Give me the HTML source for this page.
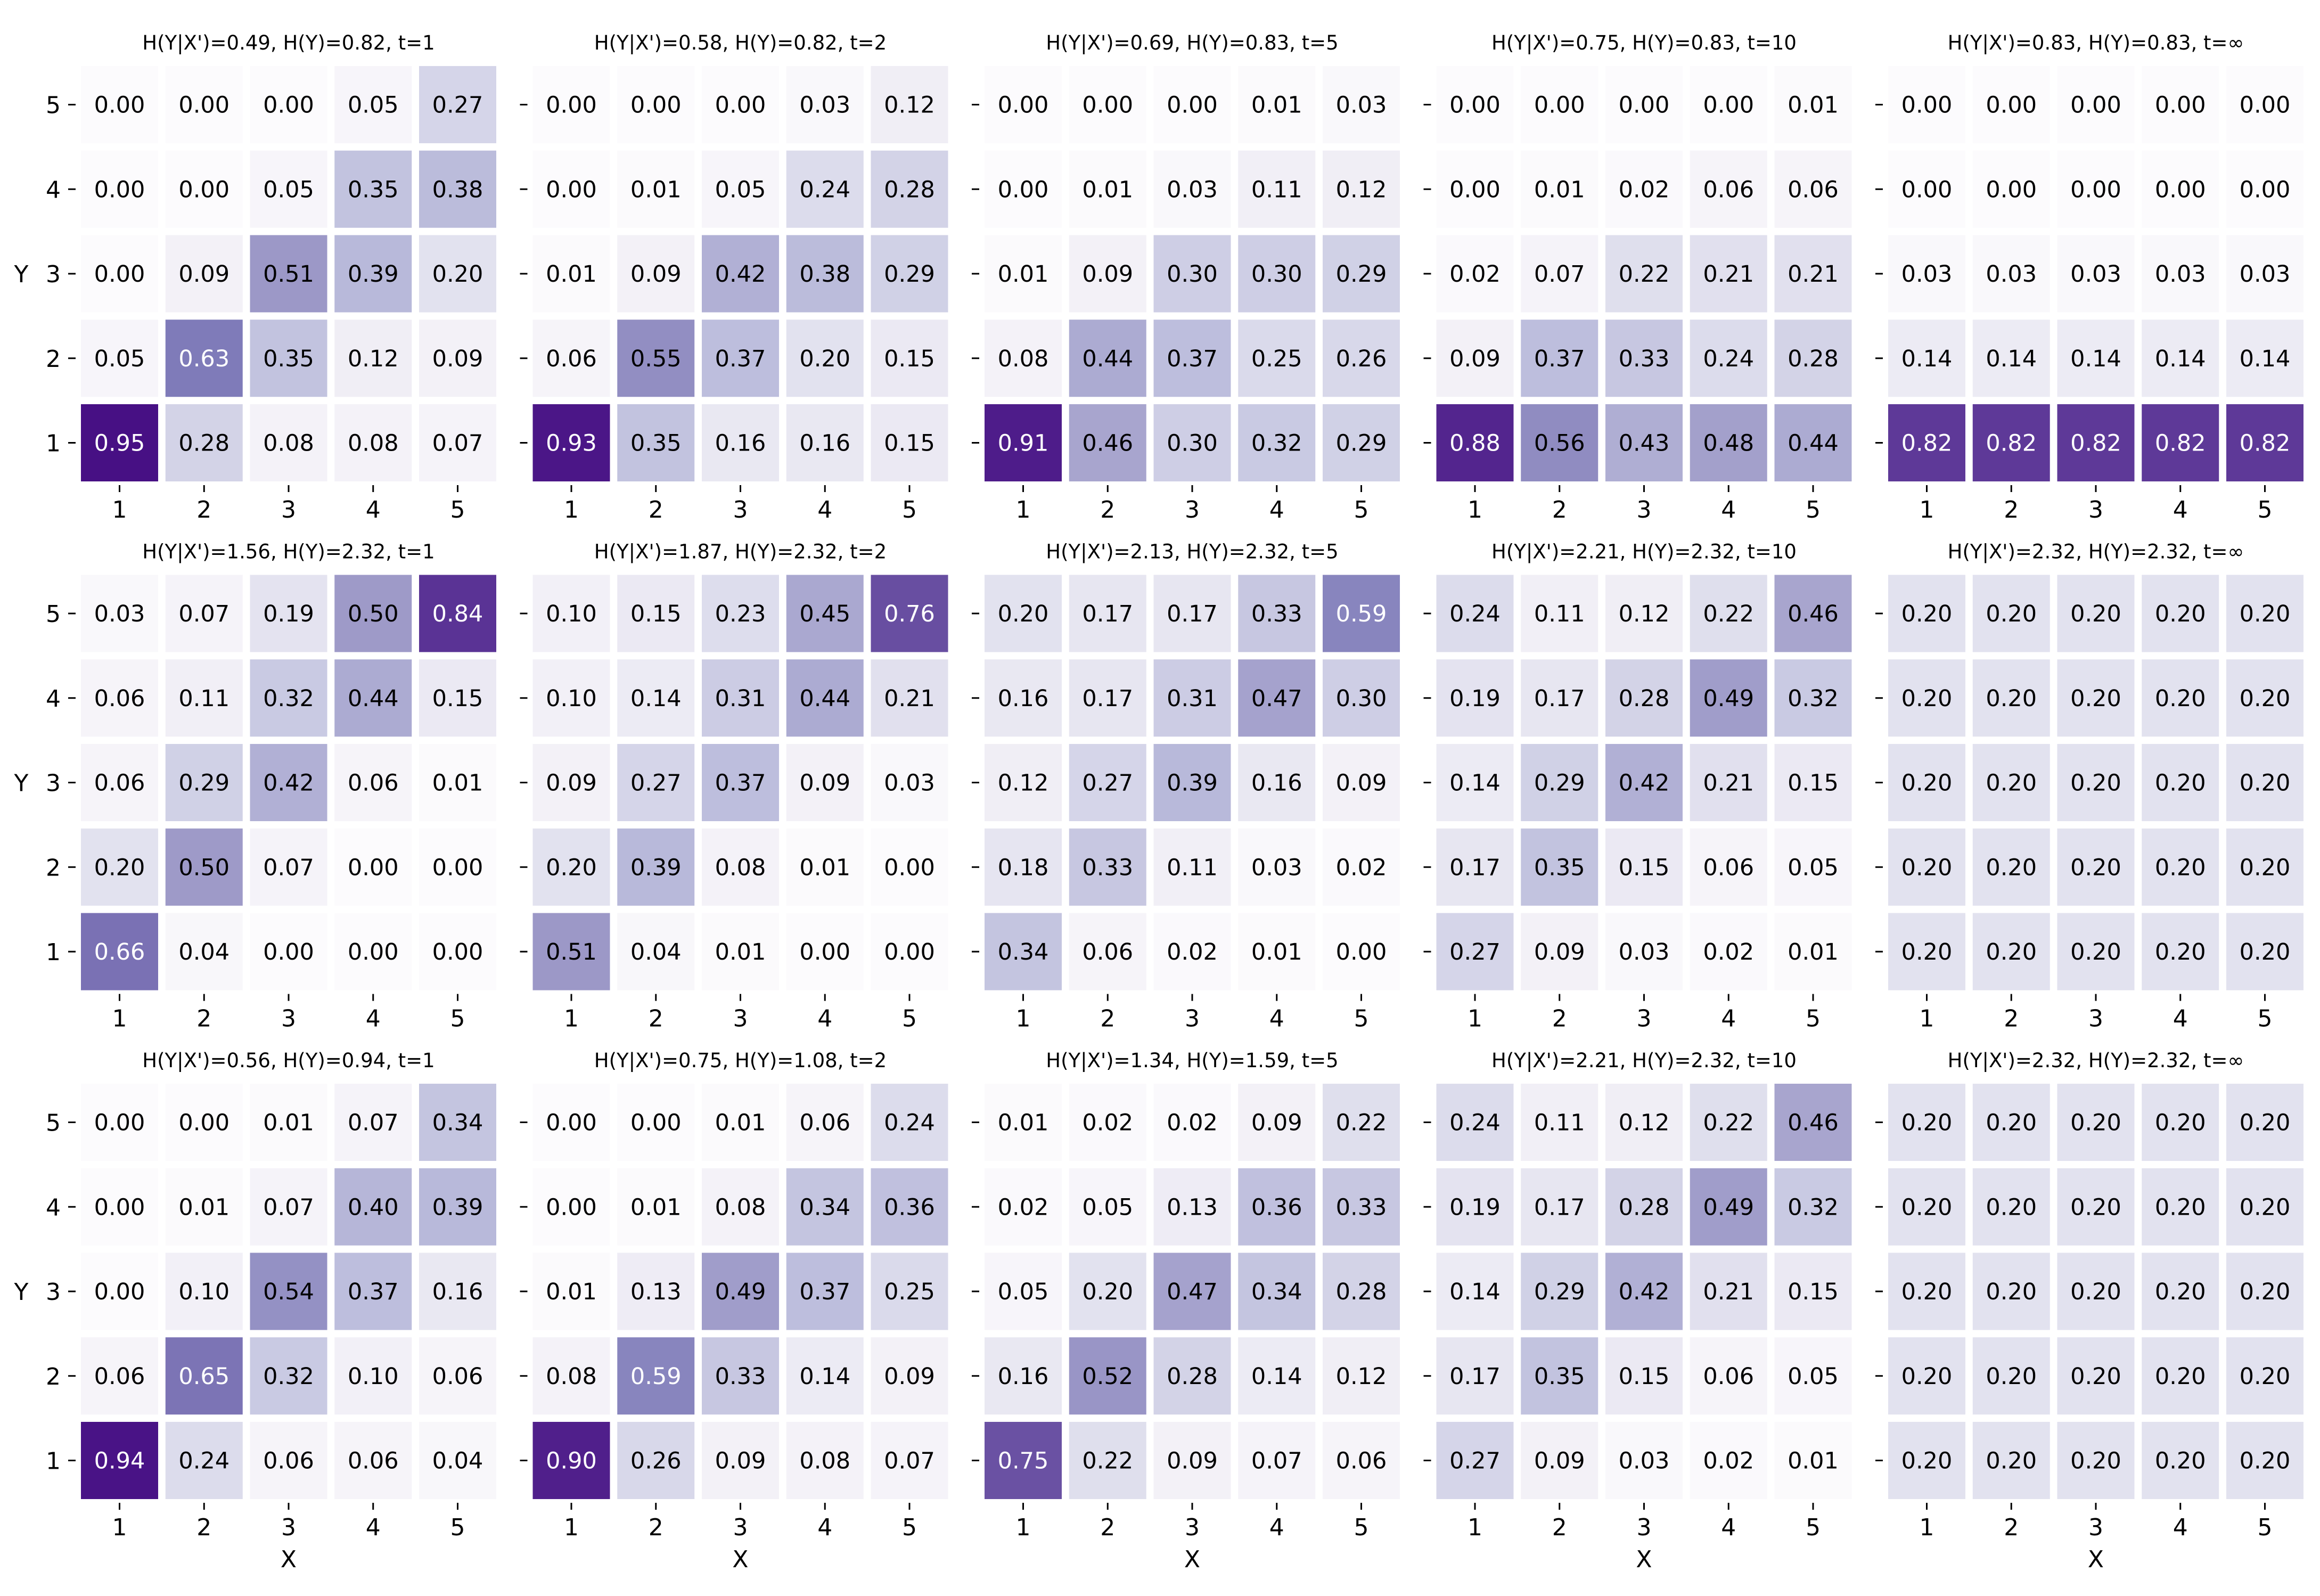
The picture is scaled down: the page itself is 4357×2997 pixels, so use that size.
<!DOCTYPE html>
<html><head><meta charset="utf-8"><style>
html,body{margin:0;padding:0;background:#fff;}
svg{display:block;font-family:"DejaVu Sans","Liberation Sans",sans-serif;}
</style></head><body>
<svg id="chart" width="4357" height="2997" viewBox="0 0 4357 2997" xmlns="http://www.w3.org/2000/svg"></svg>
<script>
const xCategories = ["1","2","3","4","5"];
const yCategories = ["5","4","3","2","1"];
const titles = [
 ["H(Y|X')=0.49, H(Y)=0.82, t=1","H(Y|X')=0.58, H(Y)=0.82, t=2","H(Y|X')=0.69, H(Y)=0.83, t=5","H(Y|X')=0.75, H(Y)=0.83, t=10","H(Y|X')=0.83, H(Y)=0.83, t=∞"],
 ["H(Y|X')=1.56, H(Y)=2.32, t=1","H(Y|X')=1.87, H(Y)=2.32, t=2","H(Y|X')=2.13, H(Y)=2.32, t=5","H(Y|X')=2.21, H(Y)=2.32, t=10","H(Y|X')=2.32, H(Y)=2.32, t=∞"],
 ["H(Y|X')=0.56, H(Y)=0.94, t=1","H(Y|X')=0.75, H(Y)=1.08, t=2","H(Y|X')=1.34, H(Y)=1.59, t=5","H(Y|X')=2.21, H(Y)=2.32, t=10","H(Y|X')=2.32, H(Y)=2.32, t=∞"]
];
// rows listed top (Y=5) to bottom (Y=1)
const a1=[[0,0,0,.05,.27],[0,0,.05,.35,.38],[0,.09,.51,.39,.20],[.05,.63,.35,.12,.09],[.95,.28,.08,.08,.07]];
const a2=[[0,0,0,.03,.12],[0,.01,.05,.24,.28],[.01,.09,.42,.38,.29],[.06,.55,.37,.20,.15],[.93,.35,.16,.16,.15]];
const a3=[[0,0,0,.01,.03],[0,.01,.03,.11,.12],[.01,.09,.30,.30,.29],[.08,.44,.37,.25,.26],[.91,.46,.30,.32,.29]];
const a4=[[0,0,0,0,.01],[0,.01,.02,.06,.06],[.02,.07,.22,.21,.21],[.09,.37,.33,.24,.28],[.88,.56,.43,.48,.44]];
const a5=[[0,0,0,0,0],[0,0,0,0,0],[.03,.03,.03,.03,.03],[.14,.14,.14,.14,.14],[.82,.82,.82,.82,.82]];
const b1=[[.03,.07,.19,.50,.84],[.06,.11,.32,.44,.15],[.06,.29,.42,.06,.01],[.20,.50,.07,0,0],[.66,.04,0,0,0]];
const b2=[[.10,.15,.23,.45,.76],[.10,.14,.31,.44,.21],[.09,.27,.37,.09,.03],[.20,.39,.08,.01,0],[.51,.04,.01,0,0]];
const b3=[[.20,.17,.17,.33,.59],[.16,.17,.31,.47,.30],[.12,.27,.39,.16,.09],[.18,.33,.11,.03,.02],[.34,.06,.02,.01,0]];
const b4=[[.24,.11,.12,.22,.46],[.19,.17,.28,.49,.32],[.14,.29,.42,.21,.15],[.17,.35,.15,.06,.05],[.27,.09,.03,.02,.01]];
const b5=[[.2,.2,.2,.2,.2],[.2,.2,.2,.2,.2],[.2,.2,.2,.2,.2],[.2,.2,.2,.2,.2],[.2,.2,.2,.2,.2]];
const c1=[[0,0,.01,.07,.34],[0,.01,.07,.40,.39],[0,.10,.54,.37,.16],[.06,.65,.32,.10,.06],[.94,.24,.06,.06,.04]];
const c2=[[0,0,.01,.06,.24],[0,.01,.08,.34,.36],[.01,.13,.49,.37,.25],[.08,.59,.33,.14,.09],[.90,.26,.09,.08,.07]];
const c3=[[.01,.02,.02,.09,.22],[.02,.05,.13,.36,.33],[.05,.20,.47,.34,.28],[.16,.52,.28,.14,.12],[.75,.22,.09,.07,.06]];
const c4=[[.24,.11,.12,.22,.46],[.19,.17,.28,.49,.32],[.14,.29,.42,.21,.15],[.17,.35,.15,.06,.05],[.27,.09,.03,.02,.01]];
const c5=[[.2,.2,.2,.2,.2],[.2,.2,.2,.2,.2],[.2,.2,.2,.2,.2],[.2,.2,.2,.2,.2],[.2,.2,.2,.2,.2]];
const panels=[[a1,a2,a3,a4,a5],[b1,b2,b3,b4,b5],[c1,c2,c3,c4,c5]];

const NS="http://www.w3.org/2000/svg";
const svg=document.getElementById('chart');
const stops=[[252,251,253],[239,237,245],[218,218,235],[188,189,220],[158,154,200],[128,125,186],[106,81,163],[84,39,143],[63,0,125]];
function cmap(v){v=Math.max(0,Math.min(1,v));const p=v*8;const i=Math.min(7,Math.floor(p));const f=p-i;
 return stops[i].map((c,k)=>Math.round(c+(stops[i+1][k]-c)*f));}
function mk(tag,attrs,parent){const e=document.createElementNS(NS,tag);for(const k in attrs)e.setAttribute(k,attrs[k]);(parent||svg).appendChild(e);return e;}
const panelLeft=c=>152+848.5*c, panelTop=r=>124+955.5*r;
const pitch=158.75, cell=145;
const xPos=(L,i)=>L+i*pitch, yPos=(T,j)=>T+j*pitch;

for(let r=0;r<3;r++)for(let c=0;c<5;c++){
 const L=panelLeft(c),T=panelTop(r),data=panels[r][c];
 const g=mk('g',{});
 
 
 const t=mk('text',{x:L+390,y:T-31,'text-anchor':'middle','font-size':37},g);
 t.textContent=titles[r][c];
 
 
 for(let j=0;j<5;j++)for(let i=0;i<5;i++){
  const v=data[j][i],col=cmap(v);
  const rc=mk('rect',{x:xPos(L,i),y:yPos(T,j),width:cell,height:cell,fill:'rgb('+col.join(',')+')'},g);
  
  
  const tx=mk('text',{x:xPos(L,i)+cell/2,y:yPos(T,j)+cell/2+15,'text-anchor':'middle','font-size':43,fill:v>0.57?'#fff':'#000'},g);
  tx.textContent=v.toFixed(2);
  
  
 }
 for(let j=0;j<5;j++){
  const cy=yPos(T,j)+cell/2;
  const tk=mk('line',{x1:L-24,x2:L-10,y1:cy,y2:cy,stroke:'#000','stroke-width':3},g);
  
  
  if(c===0){const yl=mk('text',{x:L-38,y:cy+16,'text-anchor':'end','font-size':44},g);yl.textContent=yCategories[j];
   
   }
 }
 for(let i=0;i<5;i++){
  const cx=xPos(L,i)+cell/2,B=T+4*pitch+cell;
  const tk=mk('line',{x1:cx,x2:cx,y1:B+7,y2:B+20,stroke:'#000','stroke-width':3},g);
  
  
  const xl=mk('text',{x:cx,y:B+68,'text-anchor':'middle','font-size':44},g);xl.textContent=xCategories[i];
  
  
 }
 if(c===0){const ya=mk('text',{x:40,y:yPos(T,2)+cell/2+16,'text-anchor':'middle','font-size':44},g);ya.textContent='Y';
  
  }
 if(r===2){const xa=mk('text',{x:L+390,y:T+4*pitch+cell+128,'text-anchor':'middle','font-size':44},g);xa.textContent='X';
  
  }
}
</script>
</body></html>
